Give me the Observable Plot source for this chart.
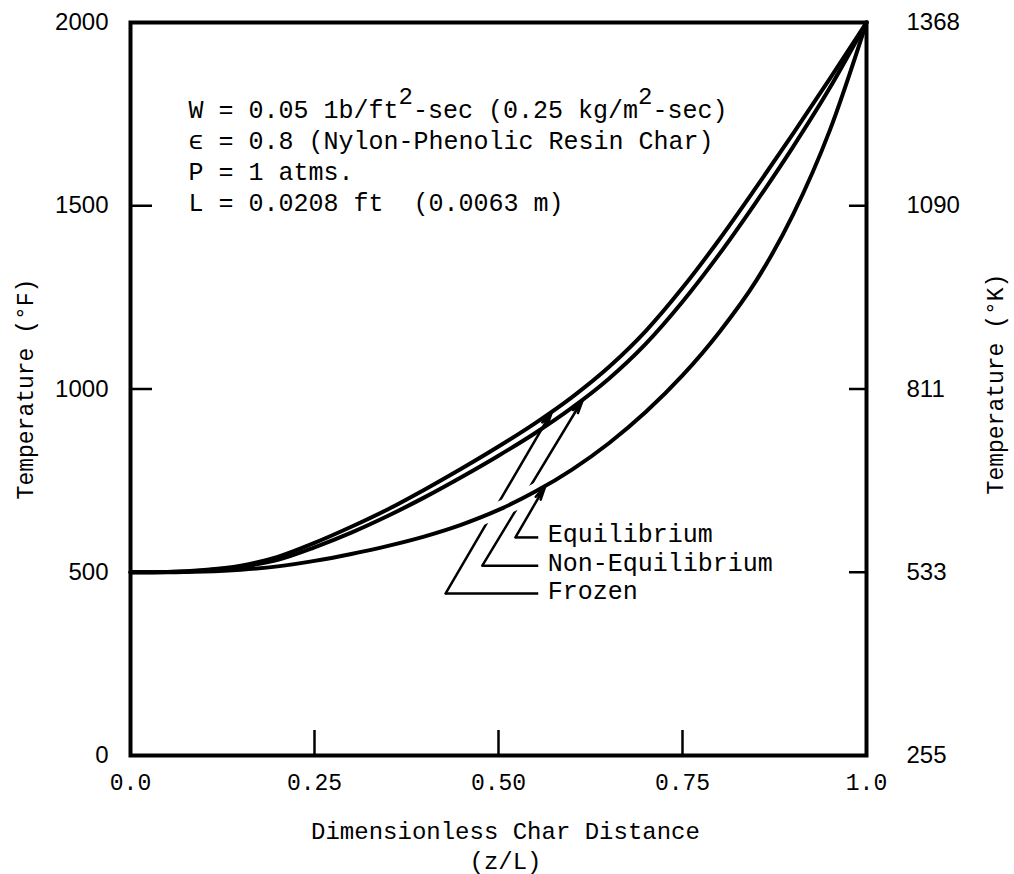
<!DOCTYPE html>
<html>
<head>
<meta charset="utf-8">
<script src="https://cdn.jsdelivr.net/npm/d3@7"></script>
<script src="https://cdn.jsdelivr.net/npm/@observablehq/plot@0.6"></script>
<style>
  html, body { margin: 0; padding: 0; background: #fff; }
  #chart svg { display: block; }
</style>
</head>
<body>
<div id="chart"></div>
<script>
// ---- data ----
const zValues = [0, 0.05, 0.10, 0.15, 0.20, 0.25, 0.30, 0.35, 0.40, 0.45, 0.50, 0.55, 0.60, 0.65, 0.70, 0.75, 0.80, 0.85, 0.90, 0.95, 1.0];
const frozenT = [500, 501, 506, 518, 542, 580, 624, 672, 726, 783, 843, 907, 978, 1060, 1158, 1276, 1408, 1550, 1696, 1846, 2000];
const nonEqT  = [500, 501, 505, 515, 534, 568, 608, 654, 705, 760, 818, 880, 949, 1028, 1123, 1238, 1368, 1510, 1660, 1821, 2000];
const equilT  = [500, 500, 502, 507, 516, 531, 550, 572, 598, 630, 670, 720, 780, 852, 937, 1037, 1155, 1295, 1475, 1705, 2000];

const fTicks = [0, 500, 1000, 1500, 2000];
const kTickLabels = ["255", "533", "811", "1090", "1368"];
const innerFTicks = [500, 1000, 1500];
const xTicks = [0, 0.25, 0.5, 0.75, 1.0];
const xTickLabels = ["0.0", "0.25", "0.50", "0.75", "1.0"];
const innerXTicks = [0.25, 0.5, 0.75];

const noteLines = [
  "W = 0.05 1b/ft\u00B2-sec (0.25 kg/m\u00B2-sec)",
  "\u03F5 = 0.8 (Nylon-Phenolic Resin Char)",
  "P = 1 atms.",
  "L = 0.0208 ft  (0.0063 m)"
];

const seriesNames = ["Equilibrium", "Non-Equilibrium", "Frozen"];
const seriesValues = [equilT, nonEqT, frozenT];
// leader annotations (data units)
const leaderElbowZ = [0.523, 0.478, 0.428];
const leaderLevelT = [595, 518, 442];
const leaderTipZ   = [0.564, 0.615, 0.573];
const leaderEndZ = 0.554;
const labelZ = 0.567;

// ---- build ----
const rows = series => zValues.map((z, i) => ({z, T: series[i]}));
const interp = series => d3.scaleLinear().domain(zValues).range(series);
const leaders = seriesNames.map((name, i) => ({
  name,
  elbowZ: leaderElbowZ[i],
  level: leaderLevelT[i],
  endZ: leaderEndZ,
  tipZ: leaderTipZ[i],
  tipT: interp(seriesValues[i])(leaderTipZ[i])
}));
const crossingLeaders = leaders.filter(d => d.name !== "Equilibrium");
const eqLeader = leaders.filter(d => d.name === "Equilibrium");

const mono = "'Liberation Mono', 'DejaVu Sans Mono', monospace";
const sans = "'Liberation Sans', 'DejaVu Sans', sans-serif";
const lineW = 4;
const curve = "monotone-x";

const chart = Plot.plot({
  width: 1014,
  height: 874,
  marginLeft: 130,
  marginRight: 148,
  marginTop: 22,
  marginBottom: 119,
  x: {domain: [0, 1]},
  y: {domain: [0, 2000]},
  style: {background: "white", color: "black", overflow: "visible"},
  marks: [
    // leaders that cross the Equilibrium curve (drawn first, then cut by halo)
    Plot.link(crossingLeaders, {x1: "elbowZ", y1: "level", x2: "endZ", y2: "level", stroke: "black", strokeWidth: 2.5}),
    Plot.arrow(crossingLeaders, {x1: "elbowZ", y1: "level", x2: "tipZ", y2: "tipT", stroke: "black", strokeWidth: 2.5, headLength: 9, headAngle: 22}),
    // white halo of the Equilibrium curve
    Plot.line(rows(equilT), {x: "z", y: "T", stroke: "white", strokeWidth: 16, curve}),
    // Equilibrium leader
    Plot.link(eqLeader, {x1: "elbowZ", y1: "level", x2: "endZ", y2: "level", stroke: "black", strokeWidth: 2.5}),
    Plot.arrow(eqLeader, {x1: "elbowZ", y1: "level", x2: "tipZ", y2: "tipT", stroke: "black", strokeWidth: 2.5, headLength: 9, headAngle: 22}),
    // curves
    Plot.line(rows(equilT), {x: "z", y: "T", stroke: "black", strokeWidth: lineW, curve}),
    Plot.line(rows(nonEqT), {x: "z", y: "T", stroke: "black", strokeWidth: lineW, curve}),
    Plot.line(rows(frozenT), {x: "z", y: "T", stroke: "black", strokeWidth: lineW, curve}),
    // frame
    Plot.frame({stroke: "black", strokeWidth: 4}),
    // inward ticks
    Plot.axisY({ticks: innerFTicks, tickSize: -22, strokeWidth: 2.5, fill: "none", label: null}),
    Plot.axisY({anchor: "right", ticks: innerFTicks, tickSize: -18, strokeWidth: 2.5, fill: "none", label: null}),
    Plot.axisX({ticks: innerXTicks, tickSize: -25, strokeWidth: 2.5, fill: "none", label: null}),
    // tick labels
    Plot.axisY({ticks: fTicks, tickSize: 0, tickPadding: 22, label: null, fontFamily: sans, fontSize: 24, tickFormat: d => String(d)}),
    Plot.axisY({anchor: "right", ticks: fTicks, tickSize: 0, tickPadding: 40, label: null, fontFamily: sans, fontSize: 24,
      tickFormat: d => kTickLabels[fTicks.indexOf(d)]}),
    Plot.axisX({ticks: xTicks, tickSize: 0, tickPadding: 18, label: null, fontFamily: mono, fontSize: 23,
      tickFormat: d => xTickLabels[xTicks.indexOf(d)]}),
    // axis titles
    Plot.text(["Temperature (\u00B0F)"], {frameAnchor: "left", textAnchor: "middle", rotate: -90, dx: -105, fontFamily: mono, fontSize: 23}),
    Plot.text(["Temperature (\u00B0K)"], {frameAnchor: "right", textAnchor: "middle", rotate: -90, dx: 129, dy: -5, fontFamily: mono, fontSize: 23}),
    Plot.text(["Dimensionless Char Distance\n(z/L)"], {frameAnchor: "bottom", lineAnchor: "top", dy: 62, dx: 7, lineHeight: 1.25, fontFamily: mono, fontSize: 24}),
    // notes
    Plot.text([noteLines.join("\n")], {frameAnchor: "top-left", textAnchor: "start", lineAnchor: "top", dx: 58, dy: 74, lineHeight: 1.23, fontFamily: mono, fontSize: 25}),
    // series labels
    Plot.text(leaders, {x: labelZ, y: "level", text: "name", textAnchor: "start", lineAnchor: "middle", dy: -3, fontFamily: mono, fontSize: 25})
  ]
});
document.getElementById("chart").appendChild(chart);

// raise the superscript "2" characters in the notes
d3.select(chart).selectAll("text tspan").each(function () {
  const s = this.textContent;
  if (!s.includes("\u00B2")) return;
  const parts = s.split("\u00B2");
  const el = d3.select(this);
  el.text(null);
  parts.forEach((p, i) => {
    el.append("tspan").text(p);
    if (i < parts.length - 1) {
      el.append("tspan").attr("baseline-shift", "14").attr("font-size", 24).text("2");
    }
  });
});
</script>
</body>
</html>
